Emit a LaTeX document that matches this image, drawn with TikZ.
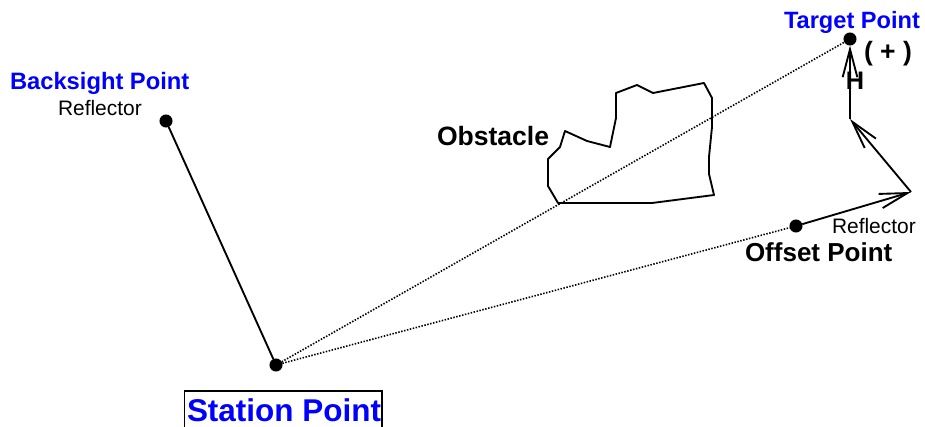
\documentclass[tikz,border=0pt]{standalone}
\usepackage{fontspec}
\setmainfont{Liberation Sans}
\usetikzlibrary{arrows.meta}
\definecolor{lblue}{RGB}{0,0,255}
\newcommand{\fsz}[1]{\fontsize{#1}{#1}\selectfont}
\tikzset{
  x=0.75pt,y=-0.75pt,
  dot/.style={circle,fill=black,inner sep=0pt,outer sep=0pt,minimum size=9.8pt},
  solidline/.style={line width=1.4pt},
  dotline/.style={line width=1.2pt,dash pattern=on 1.1pt off 1.15pt},
  barb/.style={line width=1.4pt,-{Straight Barb[length=21pt,width=11pt,line width=1.4pt]}},
  lab/.style={inner sep=0pt,outer sep=0pt,anchor=base west},
  bl/.style={lab,text=lblue,font=\bfseries\fsz{#1}},
  bk/.style={lab,font=\bfseries\fsz{#1}},
  rg/.style={lab,font=\fsz{#1}},
}
\begin{document}
\begin{tikzpicture}
\useasboundingbox (0,0) rectangle (925,427);
\node[dot] (bs) at (166,121) {};
\node[dot] (st) at (276,365) {};
\node[dot] (off) at (796,226) {};
\node[dot] (tgt) at (850,39) {};
\coordinate (c1) at (911,192);
\coordinate (c2) at (850,119);
\draw[solidline] (bs) -- (st);
\draw[dotline] (st) -- (tgt);
\draw[dotline] (st) -- (off);
\draw[barb] (off) -- (c1);
\draw[barb] (c1) -- (c2);
\draw[barb] (c2) -- (tgt);
\draw[solidline,line join=round] (565,131) -- (587,141) -- (610,147) -- (616,118) -- (616,93) -- (637,85) -- (653,93) -- (704,83) -- (712,98) -- (712,127) -- (709,157) -- (709,174) -- (714,195) -- (652,203) -- (558,203) -- (548,186) -- (548,159) -- (560,147) -- cycle;
\draw[line width=1.4pt] (184.5,427) -- (184.5,391) -- (382,391) -- (382,427);
\node[bl=17.7] (t1) at (784,29) {Target Point};
\node[bl=17.8] (t2) at (10,90) {Backsight Point};
\node[bl=23.6] (t3) at (187,422) {Station Point};
\node[bk=19.5] (t4) at (745,262) {Offset Point};
\node[bk=19.9] (t5) at (437,146) {Obstacle};
\node[bk=19,anchor=base] (t6) at (855,90) {H};
\node[bk=19.9] (t7) at (864,61) {( + )};
\node[rg=15.7] (t8) at (58,116) {Reflector};
\node[rg=15.7] (t9) at (832,234) {Reflector};
\end{tikzpicture}
\end{document}
